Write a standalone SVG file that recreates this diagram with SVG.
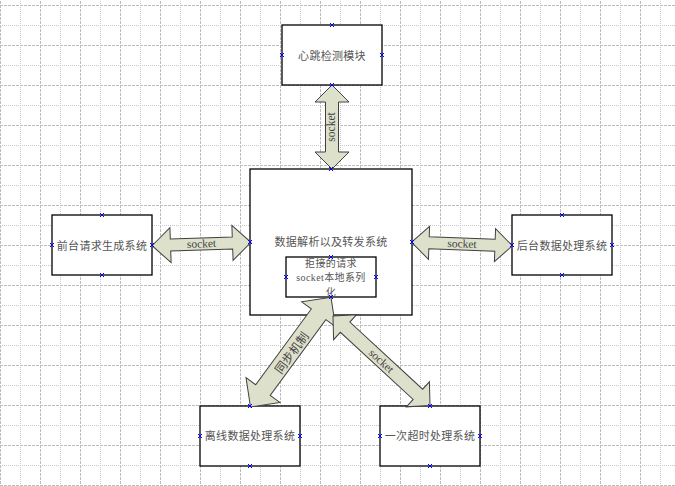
<svg xmlns="http://www.w3.org/2000/svg" xmlns:xlink="http://www.w3.org/1999/xlink" width="675" height="486" viewBox="0 0 675 486">
<style>
.maj{stroke:#bcbcbc;stroke-width:1;stroke-dasharray:3,1;fill:none}
.min{stroke:#c8c8c8;stroke-width:1;stroke-dasharray:1,1;fill:none}
.box{fill:#ffffff;stroke:#000000;stroke-width:1.3}
.lbl{font-family:"Liberation Serif","Noto Sans CJK SC",serif;font-size:10px;fill:#555;text-anchor:middle;letter-spacing:0.4px}
.cjk{font-family:"Noto Sans CJK SC",sans-serif;font-size:11px;fill:#555;text-anchor:middle;letter-spacing:0.3px}
.arr{fill:#dde0ca;stroke:#404040;stroke-width:1;stroke-linejoin:miter}
.alb{font-family:"Liberation Serif","Noto Sans CJK SC",serif;font-size:11.5px;fill:#444;text-anchor:middle;dominant-baseline:central}
.cp{stroke:#0000ff;stroke-width:1;fill:none}
</style>
<defs>
<pattern id="grid" x="0" y="5" width="40" height="40" patternUnits="userSpaceOnUse">
<line class="maj" x1="0.5" y1="0" x2="0.5" y2="40"/>
<line class="maj" x1="0" y1="0.5" x2="40" y2="0.5"/>
<line class="min" x1="20.5" y1="0" x2="20.5" y2="40"/>
<line class="min" x1="0" y1="20.5" x2="40" y2="20.5"/>
</pattern>
<path id="x" class="cp" d="M-2,-2L2,2M-2,2L2,-2"/>
</defs>
<rect x="0" y="0" width="675" height="486" fill="#ffffff"/>
<rect x="0" y="0" width="675" height="486" fill="url(#grid)"/>

<g id="node-heartbeat">
<rect class="box" x="282" y="25" width="100" height="60"/>
<text class="cjk" x="332" y="59.5">心跳检测模块</text>
</g>
<g id="node-center">
<rect class="box" x="250" y="169" width="162" height="146"/>
<text class="cjk" x="331" y="246">数据解析以及转发系统</text>
</g>
<g id="node-inner">
<rect class="box" x="286" y="257" width="90" height="40"/>
<text class="lbl"><tspan x="331" y="266.5" style="font-family:'Noto Sans CJK SC',sans-serif">拒接的请求</tspan><tspan x="331" y="281">socket<tspan style="font-family:'Noto Sans CJK SC',sans-serif">本地系列</tspan></tspan><tspan x="331" y="295.5" style="font-family:'Noto Sans CJK SC',sans-serif">化</tspan></text>
</g>
<g id="node-front">
<rect class="box" x="52" y="215" width="100" height="60"/>
<text class="cjk" x="102" y="249.5">前台请求生成系统</text>
</g>
<g id="node-back">
<rect class="box" x="512" y="215" width="100" height="60"/>
<text class="cjk" x="562" y="249.5">后台数据处理系统</text>
</g>
<g id="node-offline">
<rect class="box" x="200" y="406" width="100" height="60"/>
<text class="cjk" x="250" y="440">离线数据处理系统</text>
</g>
<g id="node-timeout">
<rect class="box" x="380" y="406" width="100" height="60"/>
<text class="cjk" x="430" y="440">一次超时处理系统</text>
</g>

<g id="connectors">
<g>
<polygon class="arr" points="332,85 349,102 338.5,102 338.5,152 349,152 332,169 315,152 325.5,152 325.5,102 315,102"/>
<text class="alb" transform="translate(331,127) rotate(-90)">socket</text>
</g>
<g transform="translate(201.5,244) rotate(-2)">
<polygon class="arr" points="-49.5,0 -31,-17.5 -31,-6 31,-6 31,-17.5 49.5,0 31,17.5 31,6 -31,6 -31,17.5"/>
<text class="alb" x="0" y="-0.5">socket</text>
</g>
<g transform="translate(462,244) rotate(2)">
<polygon class="arr" points="-50.4,0 -33,-16.5 -33,-6 33,-6 33,-16.5 50.4,0 33,16.5 33,6 -33,6 -33,16.5"/>
<text class="alb" x="0" y="-0.5">socket</text>
</g>
<g transform="translate(290.75,352.15) rotate(-53.7)">
<polygon class="arr" points="-68,0 -47,-21 -47,-9 47,-9 47,-21 68,0 47,21 47,9 -47,9 -47,21"/>
<text class="alb" x="0" y="0" style="font-family:'Noto Sans CJK SC',sans-serif;font-size:12px">同步机制</text>
</g>
<g transform="translate(381.5,360.75) rotate(42.7)">
<polygon class="arr" points="-66,0 -49.5,-17 -49.5,-7 49.5,-7 49.5,-17 66,0 49.5,17 49.5,7 -49.5,7 -49.5,17"/>
<text class="alb" x="0" y="0">socket</text>
</g>
</g>

<g id="connection-points">
<use xlink:href="#x" x="332" y="25"/><use xlink:href="#x" x="282" y="55"/><use xlink:href="#x" x="382" y="55"/><use xlink:href="#x" x="332" y="85"/>
<use xlink:href="#x" x="331" y="169"/><use xlink:href="#x" x="250" y="242"/><use xlink:href="#x" x="412" y="242"/>
<use xlink:href="#x" x="331" y="257"/><use xlink:href="#x" x="286" y="277"/><use xlink:href="#x" x="376" y="277"/><use xlink:href="#x" x="331" y="297"/>
<use xlink:href="#x" x="102" y="215"/><use xlink:href="#x" x="52" y="245"/><use xlink:href="#x" x="152" y="245"/><use xlink:href="#x" x="102" y="275"/>
<use xlink:href="#x" x="562" y="215"/><use xlink:href="#x" x="512" y="245"/><use xlink:href="#x" x="612" y="245"/><use xlink:href="#x" x="562" y="275"/>
<use xlink:href="#x" x="250" y="406"/><use xlink:href="#x" x="200" y="436"/><use xlink:href="#x" x="300" y="436"/><use xlink:href="#x" x="250" y="466"/>
<use xlink:href="#x" x="430" y="406"/><use xlink:href="#x" x="380" y="436"/><use xlink:href="#x" x="480" y="436"/><use xlink:href="#x" x="430" y="466"/>
</g>
</svg>
